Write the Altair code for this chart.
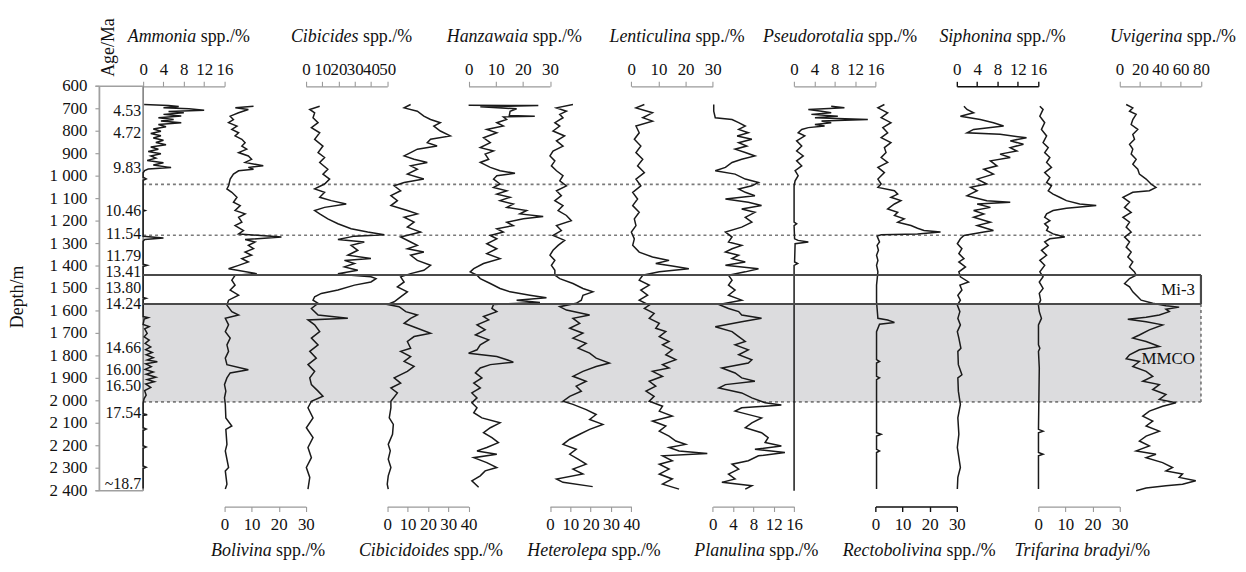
import altair as alt
import pandas as pd

FONT = "Liberation Serif"

DEPTH_TICKS = list(range(600, 2401, 100))
AGE_LABELS = ["4.53", "4.72", "9.83", "10.46", "11.54", "11.79", "13.41", "13.80",
              "14.24", "14.66", "16.00", "16.50", "17.54", "~18.7"]
AGE_DEPTHS = [709, 808, 962, 1155, 1258, 1356, 1428, 1499, 1570, 1764, 1862, 1934, 2055, 2372]

DOTTED_DEPTHS = [1037, 1263, 2005]
SOLID_DEPTHS = [1440, 1569]
MMCO_TOP, MMCO_BASE = 1569, 2005

AMMONIA = [[681,0.2],[686,5],[690,7],[696,4],[700,9],[707,12],[712,5],[718,8],[725,4],[732,7.5],
 [740,3],[748,6],[755,3.5],[762,7.5],[770,3],[780,4.5],[790,2],[800,3.5],[810,1.5],[820,3.5],
 [830,2],[840,4],[850,2.5],[860,4.5],[870,1.5],[880,3],[890,1],[900,3.5],[910,1.5],[920,2.5],
 [930,0.8],[940,4],[950,2],[962,5.5],[968,1],[975,0.3],[985,0],[1005,0],[1012,0.6],[1018,0],
 [1150,0],[1153,0.4],[1156,0],[1268,0],[1275,4],[1282,0.3],[1290,0],[1392,0],[1397,0.8],[1402,0],
 [1540,0],[1544,0.6],[1548,0],[1625,0],[1630,1],[1636,0.2],[1660,0],[1670,1.2],[1680,0.3],[1700,0.8],
 [1715,0.2],[1730,1.2],[1745,0.4],[1760,1.5],[1772,0.5],[1785,1.8],[1795,0.6],[1808,2],[1818,0.8],
 [1826,2.8],[1835,0.5],[1848,1.6],[1860,0.4],[1872,2],[1882,0.6],[1895,2.5],[1905,0.8],[1915,2.2],
 [1925,0.5],[1940,1.5],[1955,0.3],[1975,0.6],[1990,0.2],[2010,0],[2058,0],[2062,0.8],[2066,0],
 [2120,0],[2126,0.6],[2132,0],[2200,0],[2206,0.6],[2212,0],[2290,0],[2296,0.6],[2302,0],[2390,0]]

BOLIVINA = [[689,10.7],[696,4],[703,8.8],[718,5.2],[733,2.1],[748,3.3],[762,1.5],[777,4.6],[792,2.7],
 [807,5.2],[821,3.9],[836,6.4],[851,7.6],[866,6.4],[880,8.2],[895,5.2],[910,8.8],[925,10],[939,7.6],
 [954,14.3],[961,8.8],[969,10.7],[976,5.2],[991,3.3],[1013,2.1],[1043,1.5],[1057,0.9],[1072,2.7],
 [1094,4.6],[1116,3.3],[1131,5.8],[1153,3.9],[1168,7.6],[1183,5.2],[1205,6.4],[1220,3.9],[1242,7],
 [1257,5.2],[1271,21],[1282,7.6],[1293,11.3],[1308,8.8],[1323,10.7],[1338,7.6],[1352,10],[1367,6.4],
 [1382,8.8],[1397,5.2],[1412,1.5],[1434,11.9],[1441,3.9],[1463,2.7],[1485,3.9],[1507,2.1],[1530,5.2],
 [1552,1.5],[1574,0.9],[1603,2.7],[1618,5.2],[1633,0.3],[1662,1.5],[1692,0.3],[1721,2.1],[1751,0.9],
 [1780,1.5],[1810,0.3],[1839,0.9],[1862,8.8],[1876,2.1],[1898,0.9],[1928,0],[1957,0.5],[1987,0],
 [2016,0.3],[2076,0.5],[2112,2.7],[2127,0.5],[2194,0.9],[2223,0.3],[2297,1.5],[2312,0.3],[2371,0.9],
 [2393,0.3]]

CIBICIDES = [[689,8.5],[703,2.4],[718,5.4],[740,4.4],[762,7.5],[784,3.4],[807,8.5],[836,5.4],[866,10.5],
 [895,7.5],[917,11.5],[939,8.5],[969,13.5],[991,10.5],[1013,14.6],[1035,11.5],[1057,5.4],[1072,11.5],
 [1094,8.5],[1109,15.6],[1124,24.8],[1139,11.5],[1153,5.4],[1168,8.5],[1190,13.5],[1212,19.7],
 [1234,27.8],[1249,38],[1261,48.2],[1267,29.9],[1282,19.7],[1293,35.9],[1308,27.8],[1330,31.9],
 [1352,25.8],[1367,40],[1375,23.7],[1389,29.9],[1404,23.7],[1419,31.9],[1434,19.7],[1441,27.8],
 [1448,40],[1456,43.1],[1471,40],[1485,29.9],[1507,19.7],[1522,9.5],[1537,5.4],[1552,4.4],[1566,7.5],
 [1589,3.4],[1618,7.5],[1633,25.8],[1640,1.3],[1662,5.4],[1692,8.5],[1721,3.4],[1751,7.5],[1780,2.4],
 [1810,6.4],[1839,1.3],[1869,5.4],[1898,2.4],[1928,3.4],[1957,7.5],[1980,10.5],[2002,3.4],[2031,1.3],
 [2076,4.4],[2120,0.3],[2164,4.4],[2208,1.3],[2253,3.4],[2297,0.3],[2341,2.4],[2393,1.3]]

CIBICIDOIDES = [[681,11.5],[696,8.3],[711,14.8],[733,18],[748,21.3],[762,26.1],[777,22.9],[799,26.1],
 [821,31],[836,21.3],[851,19.7],[866,24.5],[880,14.8],[895,11.5],[910,8.3],[925,13.2],[939,19.7],
 [954,11.5],[969,14.8],[991,9.9],[1013,18],[1028,8.3],[1043,3.4],[1065,6.6],[1087,1.8],[1109,5],
 [1131,1.8],[1153,9.9],[1168,14.8],[1183,8.3],[1205,13.2],[1227,9.9],[1249,16.4],[1271,6.6],
 [1293,11.5],[1308,14.8],[1323,9.9],[1338,18],[1352,11.5],[1375,14.8],[1397,21.3],[1419,18],
 [1434,11.5],[1448,6.6],[1471,8.3],[1493,5],[1515,9.9],[1537,6.6],[1559,3.4],[1571,0.1],[1581,5.8],
 [1603,9.1],[1618,14.8],[1633,11.5],[1655,8.3],[1677,14.8],[1699,21.3],[1714,13.2],[1736,9.9],
 [1766,11.5],[1780,6.6],[1803,11.5],[1825,8.3],[1847,13.2],[1869,9.9],[1898,3.4],[1921,6.6],
 [1943,1.8],[1965,5],[2002,1.8],[2031,1.8],[2076,1],[2105,3],[2149,2.6],[2194,0.5],[2223,1.5],
 [2260,0.5],[2297,1.8],[2334,0.5],[2371,0],[2393,0.5]]

HANZAWAIA = [[684,0],[686,25.7],[691,4.3],[700,17.7],[711,15.3],[730,15],[733,24.4],[736,12.8],
 [748,14],[762,10.4],[777,12.8],[792,6.7],[807,10.4],[829,5.5],[851,8],[873,4.3],[888,9.2],[902,6.1],
 [925,7.4],[939,4.3],[961,8],[976,11.6],[987,17.1],[998,10.4],[1013,9.2],[1035,11.6],[1050,9.2],
 [1065,14.1],[1080,10.4],[1094,15.3],[1109,11.6],[1124,16.5],[1139,14.1],[1153,21.4],[1168,18.9],
 [1180,27.5],[1190,20.2],[1205,14.1],[1220,16.5],[1234,10.4],[1249,12.8],[1264,8],[1279,10.4],
 [1301,6.7],[1323,10.4],[1345,6.7],[1367,11.6],[1389,5.5],[1412,1.9],[1426,0.6],[1441,3.1],[1456,4.3],
 [1478,8],[1500,11.6],[1515,15.3],[1530,22.6],[1541,28.7],[1552,17.7],[1562,26.3],[1571,9.2],
 [1589,8.6],[1603,10.4],[1625,5.5],[1640,7.4],[1662,3.1],[1684,6.1],[1707,2.5],[1729,7.4],[1751,4.3],
 [1773,3.1],[1788,0],[1803,10.4],[1817,14.1],[1828,16.5],[1839,8],[1854,4.3],[1876,2.5],[1898,4.9],
 [1921,1.9],[1943,4.3],[1965,1.2],[1987,3.1],[2009,1.2],[2031,3.1],[2053,1.9],[2076,4.9],[2098,11.6],
 [2120,8],[2142,5.5],[2164,8.6],[2186,11],[2208,6.7],[2223,3.1],[2238,10.4],[2253,1.9],[2275,6.7],
 [2297,10.4],[2312,6.1],[2334,4.3],[2356,1.2],[2385,3.7]]

HETEROLEPA = [[681,11.3],[696,3.2],[711,8.1],[725,4.8],[740,6.4],[762,2.4],[777,4.8],[799,1.5],
 [821,7.2],[843,3.2],[866,6.4],[888,1.5],[910,0],[932,2.4],[954,0.7],[976,3.2],[998,6.4],[1021,4.8],
 [1043,8.1],[1065,3.2],[1087,5.6],[1109,2.4],[1131,6.4],[1153,4],[1175,8.1],[1198,10.5],[1220,3.2],
 [1242,5.6],[1264,1.5],[1286,7.2],[1308,4],[1330,1.5],[1352,0],[1375,2.4],[1397,0.7],[1419,2.4],
 [1441,2.4],[1456,4.8],[1478,11.3],[1500,16.2],[1515,21.1],[1530,16.2],[1552,15.4],[1566,12.9],
 [1581,4.8],[1596,8.1],[1618,19.5],[1633,11.3],[1655,14.6],[1677,9.7],[1699,16.2],[1721,11.3],
 [1744,17.8],[1766,13.8],[1788,19.5],[1810,22.7],[1832,29.2],[1847,22.7],[1869,16.2],[1891,11.3],
 [1913,17.8],[1935,12.9],[1957,15.4],[1980,9.7],[2002,6.4],[2016,11.3],[2039,17.8],[2061,22.7],
 [2083,19.5],[2105,26],[2127,19.5],[2149,14.6],[2171,9.7],[2194,6.4],[2216,12.9],[2238,9.7],
 [2260,13.8],[2282,17.8],[2304,11.3],[2326,16.2],[2348,3.2],[2363,6.4],[2382,21]]

LENTICULINA = [[681,4.8],[696,1.7],[718,7.8],[740,4.2],[755,7.8],[777,1.7],[807,2.9],[836,1.1],
 [866,3.5],[895,1.7],[925,4.2],[954,2.3],[984,4.8],[1013,1.7],[1043,3.5],[1072,0.5],[1102,2.3],
 [1131,0.5],[1161,2.9],[1190,1.1],[1220,1.7],[1249,0],[1279,1.1],[1308,0.5],[1338,2.9],[1360,7.8],
 [1375,13.9],[1389,9],[1400,15.1],[1412,21.2],[1426,10.3],[1441,4.2],[1463,2.9],[1485,6.6],[1507,3.5],
 [1530,6],[1552,2.9],[1574,6.6],[1589,4.8],[1611,8.4],[1633,6.6],[1655,10.3],[1677,9],[1692,12.7],
 [1714,10.3],[1736,13.9],[1751,11.5],[1773,15.1],[1795,12.7],[1817,16.4],[1839,11.5],[1854,13.9],
 [1869,7.8],[1891,11.5],[1913,6.6],[1935,9],[1957,5.4],[1980,8.4],[2002,6.6],[2024,11.5],[2046,10.3],
 [2068,15.1],[2090,7.8],[2112,12.7],[2135,10.3],[2157,13.9],[2179,16.4],[2194,20],[2208,13.9],
 [2223,17.6],[2235,28],[2245,11.5],[2267,15.1],[2282,10.3],[2304,13.9],[2326,10.3],[2348,15.1],
 [2371,11.5],[2393,17.6]]

PLANULINA = [[681,0.2],[711,0.2],[740,0.5],[748,3.8],[762,5.1],[777,6.4],[792,5.1],[807,7],[821,4.8],
 [836,7.7],[851,5.1],[866,6.7],[880,4.4],[895,6.4],[910,8.3],[925,5.7],[939,3.8],[961,2.5],[976,0.5],
 [991,4.4],[1013,6.4],[1028,9],[1043,7.7],[1057,5.1],[1072,6.4],[1087,8.3],[1102,2.5],[1116,7],
 [1131,9.6],[1146,5.7],[1161,8.3],[1183,6.4],[1205,7.7],[1227,5.7],[1249,2.5],[1271,3.8],[1293,3.1],
 [1308,5.7],[1323,3.8],[1338,2.5],[1352,5.1],[1367,3.8],[1382,6.4],[1397,2.5],[1412,9],[1426,6.4],
 [1441,3.1],[1463,3.8],[1485,3.1],[1507,4.4],[1530,3.1],[1552,5.7],[1571,1.2],[1589,3.1],[1603,5.1],
 [1618,5.7],[1633,9.6],[1648,5.7],[1670,0.5],[1692,3.8],[1714,5.1],[1736,6.4],[1751,4.4],[1773,7],
 [1795,5.1],[1817,7.7],[1832,7],[1854,1.8],[1876,4.4],[1898,5.7],[1913,8.3],[1928,2.5],[1943,1.2],
 [1965,5.7],[1987,7.7],[2009,10.3],[2019,13.5],[2031,5.7],[2046,4.4],[2076,9.6],[2098,7.7],[2120,6.4],
 [2142,9.6],[2164,10.9],[2186,10.3],[2201,13.5],[2216,8.3],[2230,14.2],[2245,9],[2267,7],[2282,3.8],
 [2304,5.1],[2326,3.1],[2348,4.4],[2363,1.8],[2378,7.7],[2393,6.4]]

PSEUDOROTALIA = [[689,7.3],[696,9.9],[703,2.8],[711,5.4],[718,7.3],[725,3.4],[733,8.6],[740,4.1],
 [748,14.5],[755,5.4],[762,7.3],[770,4.1],[777,6],[784,2.8],[792,1.5],[807,0.8],[821,2.1],[843,0.5],
 [866,1.5],[888,0.5],[910,1.8],[932,0.5],[954,1.5],[976,0.2],[998,0.8],[1021,0.2],[1043,0],[1205,0],
 [1212,0.5],[1220,0],[1279,0.1],[1286,0.8],[1293,2.8],[1301,0.2],[1382,0.1],[1389,0.7],[1397,0],
 [2400,0]]

RECTOBOLIVINA = [[681,3.3],[696,0.9],[718,4.5],[740,2.1],[762,5.7],[784,2.7],[807,4.5],[829,2.1],
 [851,5.7],[873,3.3],[895,3.9],[917,2.1],[939,4.5],[961,0.9],[984,3.3],[1013,0.9],[1035,2.1],
 [1050,0.9],[1065,7],[1080,8.2],[1094,5.7],[1109,9.4],[1124,7],[1146,4.5],[1161,8.2],[1175,7],
 [1190,10.6],[1205,8.2],[1220,13.1],[1232,15.5],[1242,17.9],[1249,24],[1257,15.5],[1261,2.1],
 [1267,0.6],[1293,1.5],[1308,0.6],[1330,1.1],[1352,0.4],[1375,0.9],[1397,0.4],[1426,0.9],[1485,0.4],
 [1559,0.4],[1633,0.9],[1640,4.5],[1651,7],[1659,1.5],[1692,0.4],[1817,0.4],[1825,1.5],[1832,0.4],
 [1891,0.4],[1898,1.5],[1906,0.4],[2142,0.4],[2149,2.1],[2157,0.4],[2216,0.4],[2223,1.5],[2230,0.4],
 [2393,0.4]]

SIPHONINA = [[689,1.4],[703,2],[718,3.3],[733,0.7],[748,4.6],[762,7.2],[777,9.2],[792,3.3],[807,2],
 [814,8.5],[829,13.7],[843,10.5],[858,13.1],[873,10.5],[888,11.8],[902,8.5],[917,10.5],[932,6.6],
 [954,7.9],[969,5.3],[991,7.2],[1013,4],[1035,5.9],[1050,2.7],[1065,4],[1087,2],[1109,5.9],[1116,10.5],
 [1124,4],[1139,6.6],[1153,3.3],[1168,5.3],[1183,3.3],[1205,6.6],[1220,4],[1242,7.2],[1249,5.3],
 [1264,1.4],[1279,0.7],[1301,0.1],[1323,1],[1345,0.4],[1367,1.4],[1382,0.4],[1404,1.7],[1426,0.4],
 [1448,0.7],[1471,2.3],[1485,0.6],[1507,1],[1530,0.2],[1552,0.7],[1574,0.1],[1603,0.6],[1633,0.2],
 [1662,0.7],[1692,0.1],[1721,0.4],[1766,0.8],[1780,0.2],[1839,0.3],[1884,1],[1898,0.2],[1957,0.3],
 [2016,0.7],[2076,0.2],[2149,0.4],[2208,0.1],[2297,0.7],[2341,0.2],[2393,0.1]]

TRIFARINA = [[689,0.6],[703,1.8],[733,0.6],[762,2.4],[792,1.2],[821,3.1],[851,1.8],[873,3.7],[895,2.4],
 [917,4.3],[939,3.1],[961,4.9],[984,2.4],[1006,4.3],[1028,3.1],[1043,4.9],[1065,3.7],[1080,5.5],
 [1094,7.9],[1109,10.4],[1124,15.3],[1131,21.4],[1143,10.4],[1153,5.5],[1168,3.1],[1183,2.4],
 [1198,4.3],[1212,2.4],[1227,3.7],[1242,3.1],[1257,5.5],[1271,9.8],[1279,4.3],[1293,2.4],[1308,3.7],
 [1330,1.2],[1352,3.1],[1375,0.6],[1397,2.4],[1426,0.6],[1448,1.8],[1471,0.4],[1500,1.8],[1522,0.4],
 [1552,0.9],[1574,0.1],[1603,0.4],[1633,1.2],[1662,0.1],[1751,0.1],[1766,0.6],[1780,0.1],[1854,0.4],
 [2127,0.1],[2135,1.8],[2142,0.1],[2230,0.1],[2238,1.8],[2245,0.1],[2393,0.1]]

UVIGERINA = [[681,6.5],[696,13],[711,9.8],[725,16.3],[748,13],[770,11.4],[792,17.9],[814,13],[836,14.7],
 [858,9.8],[880,13],[902,11.4],[925,16.3],[947,13],[969,17.9],[991,19.5],[1013,26.1],[1035,30.9],
 [1050,35.8],[1065,29.3],[1072,13],[1094,3.3],[1116,9.8],[1139,4.9],[1161,11.4],[1183,3.3],[1205,9.8],
 [1227,6.5],[1249,11.4],[1271,4.9],[1293,9.8],[1316,6.5],[1338,11.4],[1360,8.1],[1382,13],[1404,9.8],
 [1426,14.7],[1441,16.3],[1456,9.8],[1478,4.9],[1493,9.8],[1515,13],[1537,17.9],[1552,21.2],
 [1566,32.6],[1577,45.6],[1583,58.6],[1592,45.6],[1603,48.9],[1618,39.1],[1628,26.1],[1637,8.1],
 [1648,26.1],[1662,42.3],[1684,29.3],[1707,19.5],[1721,13],[1736,26.1],[1758,39.1],[1773,19.5],
 [1795,9.8],[1813,6.5],[1825,19.5],[1847,13],[1869,26.1],[1891,32.6],[1913,22.8],[1928,39.1],
 [1950,32.6],[1972,45.6],[1994,39.1],[2009,55.4],[2024,42.3],[2046,29.3],[2068,22.8],[2090,32.6],
 [2112,26.1],[2135,39.1],[2157,26.1],[2179,19.5],[2201,29.3],[2223,16.3],[2238,35.8],[2253,26.1],
 [2275,42.3],[2297,52.1],[2312,45.6],[2326,61.9],[2341,58.6],[2356,74.9],[2371,61.9],[2378,45.6],
 [2388,26.1],[2400,16.3]]

PANELS = [
    ("Ammonia", " spp./%", "top", 16, [0, 4, 8, 12, 16], AMMONIA, False),
    ("Bolivina", " spp./%", "bottom", 30, [0, 10, 20, 30], BOLIVINA, False),
    ("Cibicides", " spp./%", "top", 50, [0, 10, 20, 30, 40, 50], CIBICIDES, False),
    ("Cibicidoides", " spp./%", "bottom", 40, [0, 10, 20, 30, 40], CIBICIDOIDES, False),
    ("Hanzawaia", " spp./%", "top", 30, [0, 10, 20, 30], HANZAWAIA, False),
    ("Heterolepa", " spp./%", "bottom", 40, [0, 10, 20, 30, 40], HETEROLEPA, False),
    ("Lenticulina", " spp./%", "top", 30, [0, 10, 20, 30], LENTICULINA, False),
    ("Planulina", " spp./%", "bottom", 16, [0, 4, 8, 12, 16], PLANULINA, False),
    ("Pseudorotalia", " spp./%", "top", 16, [0, 4, 8, 12, 16], PSEUDOROTALIA, False),
    ("Rectobolivina", " spp./%", "bottom", 30, [0, 10, 20, 30], RECTOBOLIVINA, True),
    ("Siphonina", " spp./%", "top", 16, [0, 4, 8, 12, 16], SIPHONINA, True),
    ("Trifarina bradyi", "/%", "bottom", 30, [0, 10, 20, 30], TRIFARINA, False),
    ("Uvigerina", " spp./%", "top", 80, [0, 20, 40, 60, 80], UVIGERINA, False),
]

# ---- layout (plot coordinates; plot origin at page x=100, y=85) ----
W, H = 1115, 407
X0, PW = 44.0, 81.9
XR = X0 + 13 * PW
TITLE_SIZE = 18
LABEL_SIZE = 17
AGE_SIZE = 16

IT_W = {'A': 611, 'B': 611, 'C': 667, 'H': 722, 'L': 556, 'P': 611, 'R': 611, 'S': 500, 'T': 556,
        'U': 722, 'a': 500, 'b': 500, 'c': 444, 'd': 500, 'e': 444, 'f': 278, 'g': 500, 'h': 500,
        'i': 278, 'l': 278, 'm': 722, 'n': 500, 'o': 500, 'p': 500, 'r': 389, 's': 389, 't': 278,
        'u': 500, 'v': 444, 'w': 667, 'y': 444, 'z': 389, ' ': 250}
RO_W = {' ': 250, 's': 389, 'p': 500, '.': 250, '/': 278, '%': 833}


def tw(s, table):
    return sum(table.get(c, 500) for c in s) * TITLE_SIZE / 1000.0


yscale = alt.Scale(domain=[600, 2400], reverse=True, nice=False, zero=False)
AXIS_GREY = "#a0a0a0"

one = pd.DataFrame({"k": [0]})
layers = []

# MMCO grey band
band = pd.DataFrame({"a": [MMCO_TOP], "b": [MMCO_BASE]})
layers.append(alt.Chart(band).mark_rect(color="#dcdcde").encode(
    y=alt.Y("a:Q", scale=yscale, axis=None), y2="b:Q",
    x=alt.value(X0), x2=alt.value(XR)))

# depth axis: domain, ticks, labels, title
depth_df = pd.DataFrame({"depth": DEPTH_TICKS,
                         "label": [f"{d:,}".replace(",", " ") for d in DEPTH_TICKS]})
age_box = pd.DataFrame({"a": [600], "b": [2400]})
layers.append(alt.Chart(age_box).mark_rule(color=AXIS_GREY, strokeWidth=1.8).encode(
    y=alt.Y("a:Q", scale=yscale, axis=None), y2="b:Q", x=alt.value(0)))
layers.append(alt.Chart(depth_df).mark_rule(color=AXIS_GREY, strokeWidth=1.2).encode(
    y=alt.Y("depth:Q", scale=yscale, axis=None), x=alt.value(-4), x2=alt.value(0)))
layers.append(alt.Chart(depth_df).mark_text(font=FONT, fontSize=LABEL_SIZE, align="right",
                                            baseline="middle", color="#111").encode(
    y=alt.Y("depth:Q", scale=yscale, axis=None), x=alt.value(-12), text="label:N"))
layers.append(alt.Chart(one).mark_text(text="Depth/m", font=FONT, fontSize=TITLE_SIZE, angle=270,
                                       align="center", baseline="middle", color="#111").encode(
    x=alt.value(-82), y=alt.value(212)))

# dotted horizontal boundaries
layers.append(alt.Chart(pd.DataFrame({"depth": DOTTED_DEPTHS})).mark_rule(
    color="#7a7a7a", strokeWidth=1.7, strokeDash=[3, 3]).encode(
    y=alt.Y("depth:Q", scale=yscale, axis=None), x=alt.value(X0), x2=alt.value(XR)))
# dotted right side of MMCO
layers.append(alt.Chart(band).mark_rule(color="#7a7a7a", strokeWidth=1.7, strokeDash=[3, 3]).encode(
    y=alt.Y("a:Q", scale=yscale, axis=None), y2="b:Q", x=alt.value(XR)))

# age column box
layers.append(alt.Chart(age_box).mark_rule(color="#777", strokeWidth=1.5).encode(
    y=alt.Y("a:Q", scale=yscale, axis=None), y2="b:Q", x=alt.value(X0)))
layers.append(alt.Chart(age_box).mark_rule(color=AXIS_GREY, strokeWidth=1.5).encode(
    y=alt.Y("a:Q", scale=yscale, axis=None), x=alt.value(-4), x2=alt.value(X0)))
layers.append(alt.Chart(age_box).mark_rule(color=AXIS_GREY, strokeWidth=1.5).encode(
    y=alt.Y("b:Q", scale=yscale, axis=None), x=alt.value(-4), x2=alt.value(X0)))

# curves
for k, (name, suffix, side, vmax, ticks, data, dark) in enumerate(PANELS):
    df = pd.DataFrame(data, columns=["depth", "value"])
    x0 = X0 + k * PW
    col = "#111" if dark else "#9a9a9a"
    ax = alt.Axis(orient=side, values=ticks, title=None, grid=False,
                  offset=0 if side == "top" else 16, tickSize=5,
                  domainColor=col, tickColor=col, domainWidth=1.6 if dark else 1.3,
                  tickWidth=1.4 if dark else 1.1,
                  labelFont=FONT, labelFontSize=LABEL_SIZE, labelColor="#111",
                  labelPadding=3 if side == "top" else 5,
                  labelOverlap=False, labelFlush=False, labelBound=False)
    layers.append(alt.Chart(df).mark_line(color="#1a1a1a", strokeWidth=1.5).encode(
        x=alt.X("value:Q", scale=alt.Scale(domain=[0, vmax], range=[x0, x0 + PW], nice=False, zero=False),
                axis=ax),
        y=alt.Y("depth:Q", scale=yscale, axis=None),
        order="depth:Q"))

# solid Mi-3 boundaries (drawn above curves)
layers.append(alt.Chart(pd.DataFrame({"depth": SOLID_DEPTHS})).mark_rule(
    color="#4a4a4a", strokeWidth=2.2).encode(
    y=alt.Y("depth:Q", scale=yscale, axis=None), x=alt.value(X0), x2=alt.value(XR)))
layers.append(alt.Chart(pd.DataFrame({"a": [SOLID_DEPTHS[0]], "b": [SOLID_DEPTHS[1]]})).mark_rule(
    color="#4a4a4a", strokeWidth=2.2).encode(
    y=alt.Y("a:Q", scale=yscale, axis=None), y2="b:Q", x=alt.value(XR)))

# panel titles (italic genus + roman suffix)
for k, (name, suffix, side, vmax, ticks, data, dark) in enumerate(PANELS):
    x0 = X0 + k * PW
    center = x0 + PW / 2 + (5 if side == "top" else 3)
    wi, wr = tw(name, IT_W), tw(suffix, RO_W)
    total = wi + wr
    if k == len(PANELS) - 1:
        center = 1244 - 100 - total / 2
    split = center - total / 2 + wi
    lead = tw(" ", RO_W) if suffix.startswith(" ") else 0.0
    ty = -50 if side == "top" else 468
    layers.append(alt.Chart(one).mark_text(text=name, font=FONT, fontSize=TITLE_SIZE, fontStyle="italic",
                                           align="right", baseline="middle", color="#111").encode(
        x=alt.value(split), y=alt.value(ty)))
    layers.append(alt.Chart(one).mark_text(text=suffix.strip(), font=FONT, fontSize=TITLE_SIZE,
                                           align="left", baseline="middle", color="#111").encode(
        x=alt.value(split + lead), y=alt.value(ty)))

# Age/Ma header
layers.append(alt.Chart(one).mark_text(text="Age/Ma", font=FONT, fontSize=TITLE_SIZE, angle=270,
                                       align="center", baseline="middle", color="#111").encode(
    x=alt.value(10), y=alt.value(-39)))

# age labels
ages = pd.DataFrame({"depth": AGE_DEPTHS, "age": AGE_LABELS})
layers.append(alt.Chart(ages).mark_text(font=FONT, fontSize=AGE_SIZE, align="right", baseline="middle",
                                        color="#111").encode(
    y=alt.Y("depth:Q", scale=yscale, axis=None), x=alt.value(42), text="age:N"))

# event labels
events = pd.DataFrame({"depth": [1509, 1816], "label": ["Mi-3", "MMCO"]})
layers.append(alt.Chart(events).mark_text(font=FONT, fontSize=LABEL_SIZE, align="right", baseline="middle",
                                          color="#111").encode(
    y=alt.Y("depth:Q", scale=yscale, axis=None), x=alt.value(XR - 6), text="label:N"))

chart = alt.layer(*layers).resolve_scale(x="independent").properties(
    width=W, height=H,
    autosize=alt.AutoSizeParams(type="none"),
    padding={"left": 92, "top": 77, "right": 31, "bottom": 70},
    background="white",
).configure_view(stroke=None)

chart.save("out.html", embed_options={"renderer": "svg", "actions": False})
